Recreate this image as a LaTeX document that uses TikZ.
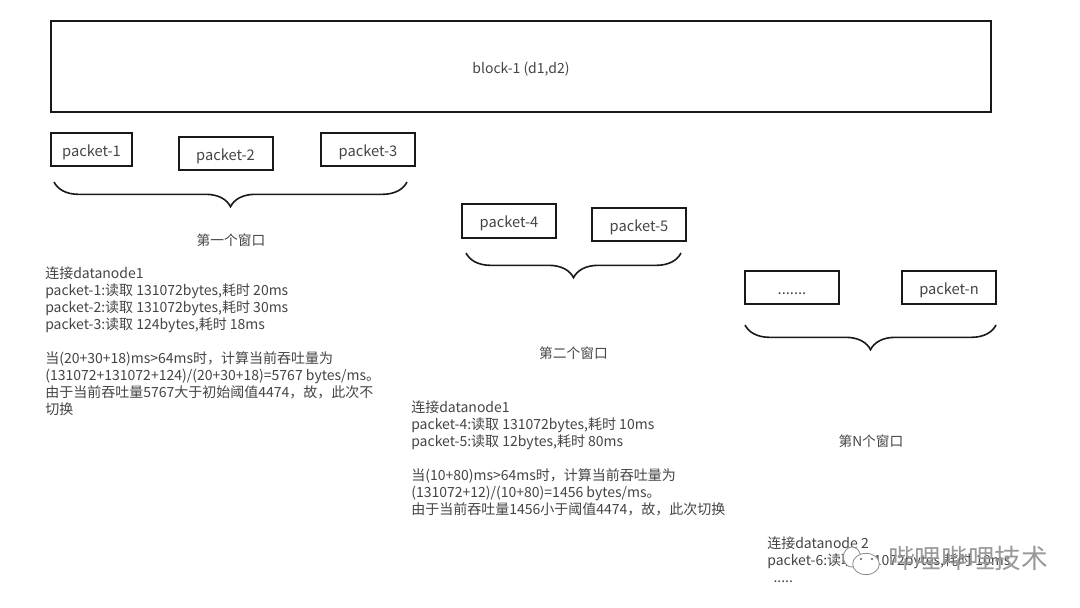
\documentclass[tikz,border=0pt]{standalone}
\usepackage{fontspec}
\setmainfont{Noto Sans CJK SC}
\usetikzlibrary{decorations.pathreplacing,shapes.geometric}
\definecolor{inkgray}{HTML}{444444}
\tikzset{
    blockbox/.style={draw=black!90,line width=1.5pt,minimum width=705pt,minimum height=68pt,inner sep=0pt,text=inkgray,text height=12.5pt,text depth=2.5pt,font=\fontsize{10.5}{12}\selectfont},
    packetbox/.style={draw=black!90,line width=1.5pt,minimum width=70.5pt,minimum height=25pt,inner sep=0pt,text=inkgray,text height=12.5pt,text depth=2.5pt,font=\fontsize{11}{12}\selectfont},
    windowname/.style={text=inkgray,inner sep=0pt,font=\fontsize{10.3}{12}\selectfont},
    notetext/.style={anchor=north west,align=left,inner sep=0pt,text=inkgray,font=\fontsize{10.5}{12.75}\selectfont},
    windowbrace/.style={draw=black!90,line width=1.2pt,decorate,decoration={brace,mirror,amplitude=18.5pt,aspect=0.5}},
    markname/.style={text=black!40,inner sep=0pt,font=\fontsize{20}{22}\selectfont},
    bubble/.style={draw=black!45,fill=white,line width=0.6pt,ellipse,inner sep=0pt},
    bubbledot/.style={fill=black!50,circle,inner sep=0pt,minimum size=2pt}
}
\begin{document}
\begin{tikzpicture}[x=0.75pt,y=-0.75pt]
        \useasboundingbox (0,0) rectangle (1080,607);

        \node[blockbox] (block) at (521,66.5) {block-1 (d1,d2)};

        % first window
        \node[packetbox,minimum width=60.5pt] (packet1) at (91.5,149.5) {packet-1};
        \node[packetbox] (packet2) at (225.5,153.5) {packet-2};
        \node[packetbox] (packet3) at (368,149.5) {packet-3};
        \coordinate (brace1a) at (54,182);
        \coordinate (brace1b) at (407,182);
        \draw[windowbrace] (brace1a) -- (brace1b);
        \node[windowname] (window1) at (231,240) {第一个窗口};
        \node[notetext] (note1) at (45,266) {连接datanode1\\
packet-1:读取 131072bytes,耗时 20ms\\
packet-2:读取 131072bytes,耗时 30ms\\
packet-3:读取 124bytes,耗时 18ms\\[12.75pt]
当(20+30+18)ms>64ms时，计算当前吞吐量为\\
(131072+131072+124)/(20+30+18)=5767 bytes/ms。\\
由于当前吞吐量5767大于初始阈值4474，故，此次不\\
切换};

        % second window
        \node[packetbox] (packet4) at (509,221) {packet-4};
        \node[packetbox] (packet5) at (639,224.5) {packet-5};
        \coordinate (brace2a) at (466,253);
        \coordinate (brace2b) at (681,253);
        \draw[windowbrace] (brace2a) -- (brace2b);
        \node[windowname] (window2) at (573.5,353) {第二个窗口};
        \node[notetext] (note2) at (411,400.5) {连接datanode1\\
packet-4:读取 131072bytes,耗时 10ms\\
packet-5:读取 12bytes,耗时 80ms\\[12.75pt]
当(10+80)ms>64ms时，计算当前吞吐量为\\
(131072+12)/(10+80)=1456 bytes/ms。\\
由于当前吞吐量1456小于阈值4474，故，此次切换};

        % last window
        \node[packetbox] (packetdots) at (792,287.5) {.......};
        \node[packetbox] (packetn) at (949,287.5) {packet-n};
        \coordinate (brace3a) at (745,325);
        \coordinate (brace3b) at (996,325);
        \draw[windowbrace] (brace3a) -- (brace3b);
        \node[windowname] (window3) at (871,441) {第N个窗口};
        \node[notetext] (note3) at (767,536) {连接datanode 2\\
packet-6:读取 131072bytes,耗时 10ms\\
\ \ .....};

        % mark in the corner
        \node[bubble,minimum width=13pt,minimum height=15pt] (bubble1) at (852,557) {};
        \node[bubble,minimum width=20pt,minimum height=16pt] (bubble2) at (866,564) {};
        \node[bubbledot] (dot1) at (861,559) {};
        \node[bubbledot] (dot2) at (872,559) {};
        \node[markname,anchor=west] (mark) at (888,558) {哔哩哔哩技术};
    \end{tikzpicture}
\end{document}
